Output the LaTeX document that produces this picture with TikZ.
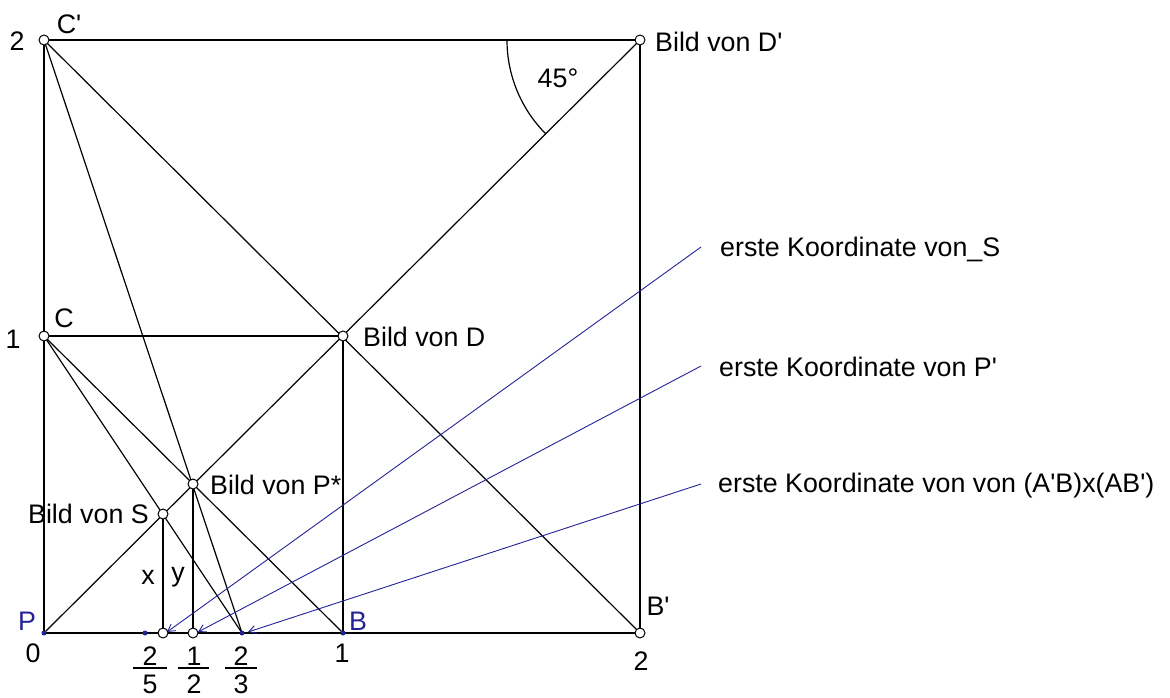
\documentclass[tikz,border=0pt]{standalone}
\usepackage{fontspec}
\setmainfont{Liberation Sans}[Ligatures=TeXOff]
\usetikzlibrary{arrows.meta}
\definecolor{navy}{RGB}{35,35,150}
\begin{document}
\begin{tikzpicture}[x=1pt,y=-1pt,
  geo/.style={line width=1.2pt,black},
  pt/.style={circle,draw,line width=1pt,fill=white,inner sep=0pt,minimum size=10pt},
  bdot/.style={circle,fill=navy,inner sep=0pt,minimum size=5pt},
  lbl/.style={font=\fontsize{26.8}{30}\selectfont,inner sep=0pt,text=black},
  blbl/.style={lbl,text=navy},
  hint/.style={navy,line width=0.9pt,-{Straight Barb[length=7pt,width=8pt]}}]
\useasboundingbox (0,0) rectangle (1170,698);
% points
\coordinate (P) at (44,633);
\coordinate (B) at (343,633);
\coordinate (Bp) at (640,633);
\coordinate (C) at (44,336);
\coordinate (Cp) at (44,40);
\coordinate (D) at (343,336);
\coordinate (Dp) at (640,40);
\coordinate (Ps) at (193,484);
\coordinate (S) at (163,514);
\coordinate (F25) at (163,633);
\coordinate (F12) at (193,633);
\coordinate (F23) at (242,633);
\coordinate (Q) at (145,633);
% square and lines
\draw[geo] (P) -- (Bp) -- (Dp) -- (Cp) -- cycle;
\draw[geo] (C) -- (D) -- (B);
\draw[geo] (P) -- (Dp);
\draw[geo] (Cp) -- (Bp);
\draw[geo] (C) -- (B);
\draw[geo] (C) -- (F23);
\draw[geo] (Cp) -- (F23);
\draw[geo] (S) -- (F25);
\draw[geo] (Ps) -- (F12);
% angle
\draw[geo] ([shift={(180:133)}]Dp) arc[start angle=180,end angle=135,radius=133];
\node[lbl] (a45) at (558,78) {45°};
% hint arrows
\coordinate (h1) at (701,247);
\coordinate (h2) at (701,366);
\coordinate (h3) at (701,484);
\coordinate (t1) at (167,632);
\coordinate (t2) at (198,632);
\coordinate (t3) at (248,632);
\draw[hint] (h1) -- (t1);
\draw[hint] (h2) -- (t2);
\draw[hint] (h3) -- (t3);
% dots
\node[bdot] (nP) at (P) {};
\node[bdot] (nB) at (B) {};
\node[bdot] (nQ) at (Q) {};
\node[bdot] (n23) at (F23) {};
\node[pt] (nCp) at (Cp) {};
\node[pt] (nDp) at (Dp) {};
\node[pt] (nC) at (C) {};
\node[pt] (nD) at (D) {};
\node[pt] (nPs) at (Ps) {};
\node[pt] (nS) at (S) {};
\node[pt] (n25) at (F25) {};
\node[pt] (n12) at (F12) {};
\node[pt] (nBp) at (Bp) {};
% labels
\node[lbl] (l2) at (17,41) {2};
\node[lbl] (lCp) at (69,24) {C'};
\node[lbl,anchor=west] (lDp) at (655,42) {Bild von D'};
\node[lbl] (l1) at (13,339) {1};
\node[lbl] (lC) at (64,318) {C};
\node[lbl,anchor=west] (lD) at (363,337) {Bild von D};
\node[lbl,anchor=west] (lPs) at (210,485) {Bild von P*};
\node[lbl,anchor=east] (lS) at (149,514) {Bild von S};
\node[lbl] (lx) at (148,577) {x};
\node[lbl] (ly) at (178,577) {y};
\node[blbl] (lP) at (27,621) {P};
\node[blbl] (lB) at (358,621) {B};
\node[lbl] (lBp) at (658,606) {B'};
\node[lbl] (l0) at (33,653) {0};
\node[lbl] (l1b) at (342,653) {1};
\node[lbl] (l2b) at (641,661) {2};
% fractions
\node[lbl] (n2a) at (150,656) {2};
\node[lbl] (d5) at (150,684) {5};
\draw[line width=1.4pt] (133,668) -- (167,668);
\node[lbl] (n1b) at (194,656) {1};
\node[lbl] (d2) at (194,684) {2};
\draw[line width=1.4pt] (178,668) -- (209,668);
\node[lbl] (n2c) at (241,656) {2};
\node[lbl] (d3) at (241,684) {3};
\draw[line width=1.4pt] (225,668) -- (257,668);
% notes
\node[lbl,anchor=west] (k1) at (720,249) {erste Koordinate von\_S};
\node[lbl,anchor=west] (k2) at (719,367) {erste Koordinate von P'};
\node[lbl,anchor=west] (k3) at (718,486) {erste Koordinate von von (A'B)x(AB')};
\end{tikzpicture}
\end{document}
